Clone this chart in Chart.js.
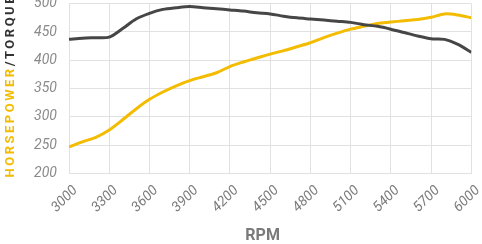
<!DOCTYPE html>
<html><head><meta charset="utf-8">
<script src="https://cdn.jsdelivr.net/npm/chart.js@4"></script>
<style>html,body{margin:0;padding:0;background:#fff}#wrap{width:482px;height:244px}</style>
</head><body><div id="wrap"><canvas id="c" width="482" height="244"></canvas></div>
<script>
const rpm = [3000,3100,3200,3300,3400,3500,3600,3700,3800,3900,4000,4100,4200,4300,4400,4500,4600,4700,4800,4900,5000,5100,5200,5300,5400,5500,5600,5700,5800,5900,6000];
const horsepower = [247,256,264,277,295,314,331,344,355,364,371,378,389,397,404,411,417,424,431,440,448,455,460,465,467.5,470,472,476,482,480,475];
const torque = [437,439,440,441,456,473,483,490,493,495,493,491,489,487,484,482,478,475,473,471,469,467,463,460,455,449,443,438,437,428,414];
const xTicks = [3000,3300,3600,3900,4200,4500,4800,5100,5400,5700,6000];
const yTicks = [200,250,300,350,400,450,500];
const hpTitle = 'HORSEPOWER';
const tqTitle = '/TORQUE';
const xTitle = 'RPM';

const YELLOW = '#F4BC00';
const DARK = '#464646';
const GRID = '#e1e1e1';

const titlePlugin = {
  id: 'titles',
  afterDraw(chart) {
    const ctx = chart.ctx;
    const a = chart.chartArea;
    ctx.save();
    ctx.font = 'bold 13px Roboto';
    ctx.letterSpacing = '2.5px';
    ctx.translate(13.5, a.bottom + 4);
    ctx.rotate(-Math.PI / 2);
    ctx.textAlign = 'left';
    ctx.textBaseline = 'alphabetic';
    ctx.fillStyle = YELLOW;
    ctx.fillText(hpTitle, 0, 0);
    const w = ctx.measureText(hpTitle).width;
    ctx.fillStyle = '#333333';
    ctx.fillText(tqTitle, w, 0);
    ctx.restore();
    ctx.save();
    ctx.font = 'bold 16px Roboto';
    ctx.fillStyle = '#7a7a7a';
    ctx.textAlign = 'center';
    ctx.textBaseline = 'middle';
    ctx.fillText(xTitle, (a.left + a.right) / 2 - 7.5, 236);
    ctx.restore();
  }
};

new Chart(document.getElementById('c'), {
  type: 'line',
  data: {
    datasets: [
      { label: 'Torque', data: rpm.map((r, i) => ({ x: r, y: torque[i] })), borderColor: DARK, borderWidth: 3, pointRadius: 0, tension: 0.3, fill: false },
      { label: 'Horsepower', data: rpm.map((r, i) => ({ x: r, y: horsepower[i] })), borderColor: YELLOW, borderWidth: 3, pointRadius: 0, tension: 0.3, fill: false }
    ]
  },
  options: {
    responsive: false,
    devicePixelRatio: 1,
    animation: false,
    events: [],
    layout: { padding: { left: 0, right: 10.7, top: 3.7, bottom: 0 } },
    plugins: { legend: { display: false }, tooltip: { enabled: false } },
    scales: {
      x: {
        type: 'linear', min: 3000, max: 6000,
        afterBuildTicks: s => { s.ticks = xTicks.map(v => ({ value: v })); },
        afterFit: s => { s.height = 70.5; s.paddingLeft = 0; s.paddingRight = 0; },
        grid: { color: GRID, drawTicks: false },
        border: { color: GRID },
        ticks: { minRotation: 45, maxRotation: 45, labelOffset: 6.5, padding: 9, color: '#7c7c7c', font: { family: 'Roboto', size: 14, style: 'italic' }, callback: v => String(v) }
      },
      y: {
        min: 200, max: 500,
        afterBuildTicks: s => { s.ticks = yTicks.map(v => ({ value: v })); },
        afterFit: s => { s.width = 69; s.paddingTop = 0; s.paddingBottom = 0; },
        grid: { color: GRID, drawTicks: false },
        border: { color: GRID },
        ticks: { padding: 12, color: '#8a8a8a', font: { family: 'Roboto', size: 14, style: 'italic' }, callback: v => String(v) }
      }
    }
  },
  plugins: [titlePlugin]
});
</script></body></html>
